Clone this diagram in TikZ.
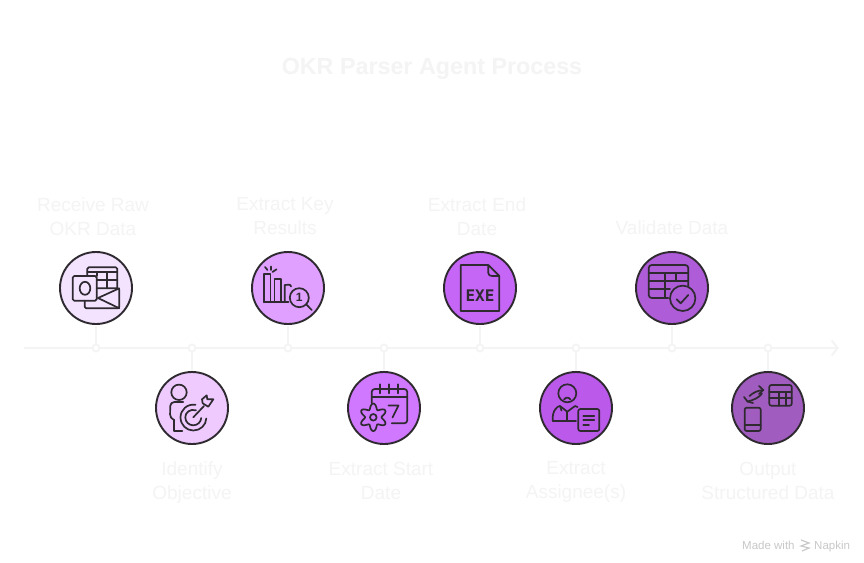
\documentclass[tikz,border=0pt]{standalone}
\usepackage{fontspec}
\setmainfont{Liberation Sans}
\newfontfamily\exefont{DejaVu Sans Mono}
\usetikzlibrary{arrows.meta}
\definecolor{faint}{HTML}{F4F4F4}
\definecolor{axis}{HTML}{F4F4F4}
\definecolor{ink}{HTML}{2E2A30}
\definecolor{mark}{HTML}{C8C8C8}
\tikzset{
  title/.style={text=faint, font=\fontsize{23.3}{28}\selectfont\bfseries},
  label/.style={text=faint, align=center, font=\fontsize{19}{24}\selectfont, execute at begin node=\rule[-7.2pt]{0pt}{24pt}, execute at end node=\rule[-7.2pt]{0pt}{24pt}},
  stage/.style={circle, draw=ink, line width=1.9pt, minimum size=72, inner sep=0, outer sep=1.5pt},
  joint/.style={circle, draw=axis, fill=white, line width=1.8pt, minimum size=7, inner sep=0, outer sep=0},
  rail/.style={draw=axis, line width=2pt},
  glyph/.style={draw=ink, line width=1.7pt, line cap=round, line join=round},
  credit/.style={text=mark, anchor=base west, inner sep=0, font=\fontsize{11.5}{12}\selectfont},
}
\begin{document}
\begin{tikzpicture}[x=1pt, y=-1pt]
  \path[use as bounding box, fill=white] (0,0) rectangle (864,562);

  \node[title] (heading) at (432,69) {OKR Parser Agent Process};

  \coordinate (start) at (24,348);
  \coordinate (end) at (839,348);
  \draw[rail, -{Straight Barb[length=6pt, width=15pt]}] (start) -- (end);

  \node[joint] (j1) at (96,348) {};
  \node[joint] (j2) at (192,348) {};
  \node[joint] (j3) at (288,348) {};
  \node[joint] (j4) at (384,348) {};
  \node[joint] (j5) at (480,348) {};
  \node[joint] (j6) at (576,348) {};
  \node[joint] (j7) at (672,348) {};
  \node[joint] (j8) at (768,348) {};

  \node[stage, fill={rgb,255:red,243;green,227;blue,255}] (receive) at (96,288) {};
  \node[stage, fill={rgb,255:red,238;green,202;blue,255}] (identify) at (192,408) {};
  \node[stage, fill={rgb,255:red,223;green,160;blue,255}] (keys) at (288,288) {};
  \node[stage, fill={rgb,255:red,208;green,120;blue,255}] (startdate) at (384,408) {};
  \node[stage, fill={rgb,255:red,197;green,102;blue,246}] (enddate) at (480,288) {};
  \node[stage, fill={rgb,255:red,187;green,90;blue,234}] (assignee) at (576,408) {};
  \node[stage, fill={rgb,255:red,175;green,92;blue,217}] (validate) at (672,288) {};
  \node[stage, fill={rgb,255:red,160;green,92;blue,190}] (output) at (768,408) {};

  \draw[rail] (receive) -- (j1);
  \draw[rail] (identify) -- (j2);
  \draw[rail] (keys) -- (j3);
  \draw[rail] (startdate) -- (j4);
  \draw[rail] (enddate) -- (j5);
  \draw[rail] (assignee) -- (j6);
  \draw[rail] (validate) -- (j7);
  \draw[rail] (output) -- (j8);

  \node[label] (lreceive) at (93,220) {Receive Raw\\OKR Data};
  \node[label] (lidentify) at (192,484) {Identify\\Objective};
  \node[label] (lkeys) at (285,220) {Extract Key\\Results};
  \node[label] (lstart) at (381,484) {Extract Start\\Date};
  \node[label] (lend) at (477,220) {Extract End\\Date};
  \node[label] (lassignee) at (576,484) {Extract\\Assignee(s)};
  \node[label] (lvalidate) at (672,230) {Validate Data};
  \node[label] (loutput) at (768,484) {Output\\Structured Data};

  \begin{scope}[shift={(receive.center)}, glyph]
    \draw[rounded corners=1.5] (-8.7,-12) -- (-8.7,-20.7) -- (21.3,-20.7) -- (21.3,0);
    \draw (-8.7,-16.3) -- (21.3,-16.3);
    \draw (0.7,-8) -- (21.3,-8);
    \draw[rounded corners=1.5] (0.7,0.3) -- (23.3,0.3) -- (23.3,20.3) -- (-11.3,20.3) -- (-11.3,12.7);
    \draw (0.7,-16.3) -- (0.7,-12);
    \draw (11.3,-16.3) -- (11.3,0.3);
    \draw[rounded corners=1.5] (-23.3,-12) rectangle (0.7,12.7);
    \draw (-11,0.3) ellipse (5.3 and 6.5);
    \draw (23.3,0.3) -- (2,10) -- (23.3,20.3);
  \end{scope}

  \begin{scope}[shift={(identify.center)}, glyph]
    \draw (-13,-15.7) circle[radius=7.7];
    \draw[rounded corners=4] (-8.7,-6) -- (-21.7,-6) -- (-22,10.5) -- (-17.7,12);
    \draw (-17.7,12) -- (-17.7,22.7) -- (-9.7,22.7);
    \draw (3.5,-3.2) .. controls (-5,-4.5) and (-11.5,2) .. (-11.5,9.3) .. controls (-11.5,17) and (-5.5,22.5) .. (1.3,22.5) .. controls (8.5,22.5) and (14,17) .. (14.3,10.5);
    \draw (4,2.3) .. controls (-2,0.5) and (-6.7,4.5) .. (-6.7,9.3) .. controls (-6.7,14) and (-3,17.3) .. (1.3,17.3) .. controls (5.5,17.3) and (9,14) .. (9.2,10);
    \draw (1.3,9.3) -- (12,-2);
    \draw (10,-8.7) -- (14.7,-12.7) -- (15.3,-8.7) -- (21.3,-8.7) -- (16.3,-1.3) -- (10.7,-4.7) -- cycle;
  \end{scope}

  \begin{scope}[shift={(keys.center)}, glyph]
    \draw (-23.7,14.3) -- (-23.7,-14) -- (-17.5,-14) -- (-17.5,14.3);
    \draw (-13.5,14.3) -- (-13.5,-8.7) -- (-7,-8.7) -- (-7,14.3);
    \draw (-3.3,14.3) -- (-3.3,-3) -- (1,-3.3) .. controls (2.3,-3.3) and (3,-2.5) .. (3,-1.5);
    \draw (-23.7,14.3) -- (0.5,14.3);
    \draw (-23,-21) -- (-20.5,-18);
    \draw (-17.3,-21.5) -- (-17.3,-18);
    \draw (-11.5,-18.7) -- (-15.5,-16);
    \draw (11.3,9.7) circle[radius=9.5];
    \draw (18.2,16.3) -- (23.7,22);
    \node[text=ink, inner sep=0, font=\fontsize{12}{12}\selectfont\bfseries] (one) at (11.3,9.7) {1};
  \end{scope}

  \begin{scope}[shift={(startdate.center)}, glyph]
    \draw[rounded corners=3] (-12.3,-5) -- (-12.3,-19) -- (23.3,-19) -- (23.3,15.3) -- (7.7,15.3);
    \draw (-12.3,-10.7) -- (23.3,-10.7);
    \draw (-4,-23.7) -- (-4,-14.7);
    \draw (5.3,-23.7) -- (5.3,-14.7);
    \draw (14.3,-23.7) -- (14.3,-14.7);
    \draw (4.5,-2.5) -- (14.5,-2.5) -- (8.5,9.5);
    \draw[smooth] plot[domain=0:360, samples=73] ({-10.7+(11-2.8*cos(6*\x))*cos(\x)}, {9.3+(11-2.8*cos(6*\x))*sin(\x)});
    \draw (-10.7,9.3) circle[radius=3.3];
  \end{scope}

  \begin{scope}[shift={(enddate.center)}, glyph]
    \draw (8.3,-23) -- (-19.3,-23) -- (-19.3,23) -- (19.3,23) -- (19.3,-12) -- (8.3,-23) -- (8.3,-15) .. controls (8.3,-13) and (10,-12) .. (12,-12) -- (19.3,-12);
    \node[text=ink, inner sep=0, font=\fontsize{16}{16}\selectfont\exefont\bfseries] (exe) at (0,7.7) {EXE};
  \end{scope}

  \begin{scope}[shift={(validate.center)}, glyph]
    \draw[rounded corners=3] (-3.7,10) -- (-23.3,10) -- (-23.3,-23) -- (16.3,-23) -- (16.3,-2);
    \draw (-23.3,-14.7) -- (16.3,-14.7);
    \draw (-23.3,-7) -- (16.3,-7);
    \draw (-23.3,1.3) -- (-2,1.3);
    \draw (-7,-14.7) -- (-7,10);
    \draw (4,-14.7) -- (4,-7);
    \draw (10.7,10.3) circle[radius=12.7];
    \draw (4.7,11.3) -- (8.7,15.3) -- (16.3,7);
  \end{scope}

  \begin{scope}[shift={(assignee.center)}, glyph]
    \draw (-8.7,-14.7) circle[radius=9];
    \draw (-12,-8.5) .. controls (-10,-11) and (-7.5,-11) .. (-5.5,-8.5);
    \draw (-23.3,12.7) .. controls (-24,3) and (-19,-2) .. (-16,-2) -- (-8.7,3.7) -- (-1,-2) -- (1.5,-1);
    \draw (-8.7,3.7) -- (-8.7,12.7);
    \draw (-23.3,12.7) -- (0,12.7);
    \draw (-16,-2) -- (-14.5,2.5);
    \draw[rounded corners=2] (2.3,1) rectangle (23.3,23);
    \draw (7.3,8) -- (18.3,8);
    \draw (7.3,12) -- (18.3,12);
    \draw (7.3,16.7) -- (13,16.7);
  \end{scope}

  \begin{scope}[shift={(output.center)}, glyph]
    \draw[rounded corners=2] (1.3,-23) rectangle (23.7,-2.3);
    \draw (1.3,-16.3) -- (23.7,-16.3);
    \draw (1.3,-9.7) -- (23.7,-9.7);
    \draw (11.3,-16.3) -- (11.3,-2.3);
    \draw (17.7,-16.3) -- (17.7,-2.3);
    \draw[rounded corners=2] (-23.3,-0.3) rectangle (-7.3,23);
    \draw (-23.3,16.7) -- (-7.3,16.7);
    \draw (-18.5,-12) .. controls (-15,-15.5) and (-10,-17.5) .. (-4.7,-18);
    \draw (-9,-22) -- (-4.7,-18) -- (-9,-14);
    \draw (-6,-14.5) .. controls (-9,-10.5) and (-14,-8) .. (-20.5,-6.5);
    \draw (-24,-11) -- (-20.5,-6.5) -- (-15,-5);
  \end{scope}

  \node[credit] (made) at (742,549) {Made with};
  \coordinate (logoa) at (801,540);
  \coordinate (logob) at (809,543);
  \coordinate (logoc) at (801,546);
  \coordinate (logod) at (809,548);
  \coordinate (logoe) at (802,551);
  \draw[draw=mark, line width=1.2pt] (logoa) -- (logob) -- (logoc) -- (logod) -- (logoe);
  \node[credit] (napkin) at (814,549) {Napkin};
\end{tikzpicture}
\end{document}
